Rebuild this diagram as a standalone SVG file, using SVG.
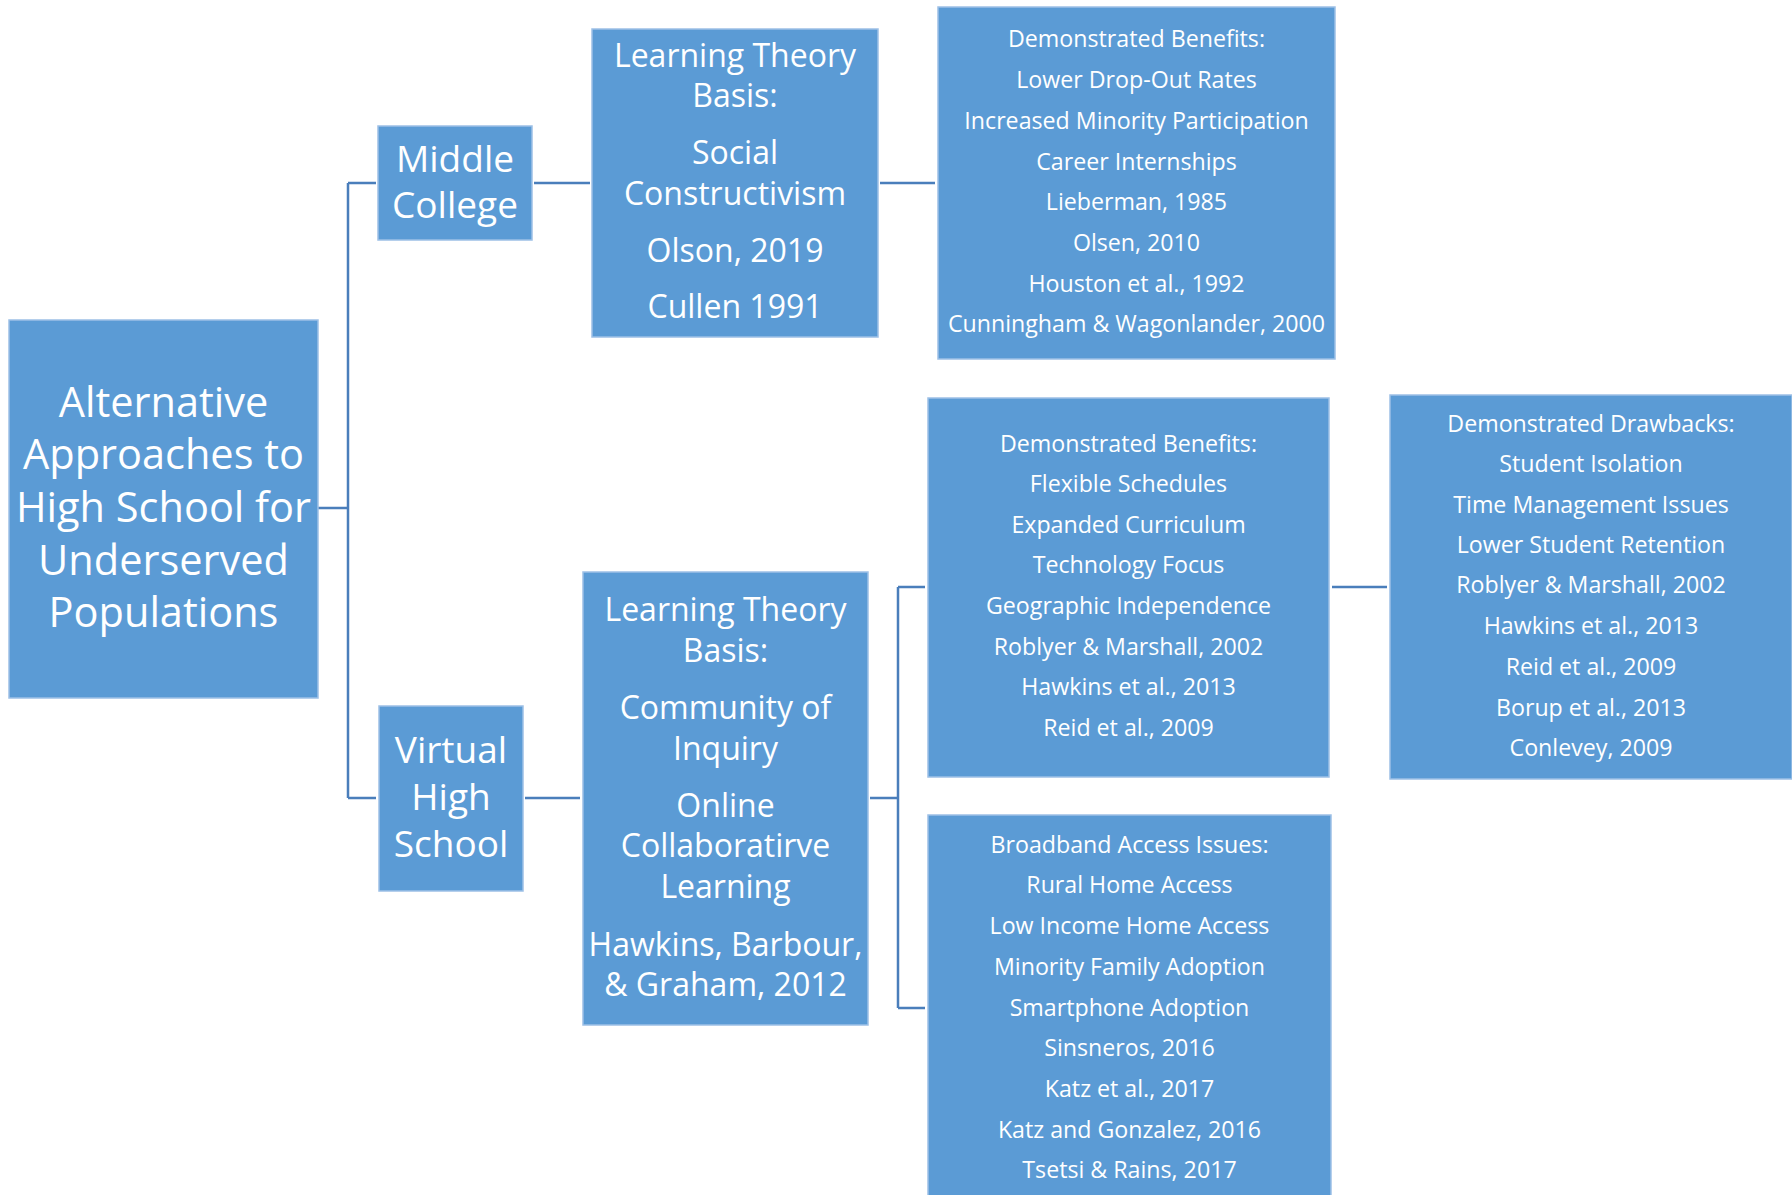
<svg xmlns="http://www.w3.org/2000/svg" width="1792" height="1195" viewBox="0 0 1792 1195">
<style>
.box{fill:#5B9BD5;stroke:#9DC0E6;stroke-width:1.5}
.conn{fill:none;stroke:#4A7EBB;stroke-width:2.5}
text{font-family:"Open Sans","Liberation Sans",sans-serif;fill:#ffffff;text-anchor:middle}
.t41{font-size:41.5px}
.t37{font-size:37px}
.t31{font-size:32px}
.t22{font-size:23.2px}
</style>
<rect width="1792" height="1195" fill="#ffffff"/>
<g id="connectors">
<path class="conn" d="M318,508 H348 M348,183 V798 M348,183 H376 M348,798 H376"/>
<path class="conn" d="M534,183 H590 M880,183 H935"/>
<path class="conn" d="M525,798 H580 M870,798 H898 M898,587 V1008 M898,587 H925 M898,1008 H925"/>
<path class="conn" d="M1332,587 H1387"/>
</g>
<g id="root">
<rect class="box" x="9" y="320" width="309" height="378"/>
<text class="t41" x="163.5" y="417">Alternative</text>
<text class="t41" x="163.5" y="469">Approaches to</text>
<text class="t41" x="163.5" y="522">High School for</text>
<text class="t41" x="163.5" y="575">Underserved</text>
<text class="t41" x="163.5" y="627">Populations</text>
</g>
<g id="middle-college">
<rect class="box" x="378" y="126" width="154" height="114"/>
<text class="t37" x="455" y="172">Middle</text>
<text class="t37" x="455" y="218">College</text>
</g>
<g id="theory-mc">
<rect class="box" x="592" y="29" width="286" height="308"/>
<text class="t31" x="735" y="67">Learning Theory</text>
<text class="t31" x="735" y="107">Basis:</text>
<text class="t31" x="735" y="164">Social</text>
<text class="t31" x="735" y="205">Constructivism</text>
<text class="t31" x="735" y="262">Olson, 2019</text>
<text class="t31" x="735" y="318">Cullen 1991</text>
</g>
<g id="benefits-mc">
<rect class="box" x="938" y="7" width="397" height="352"/>
<text class="t22" x="1136.5" y="47">Demonstrated Benefits:</text>
<text class="t22" x="1136.5" y="88">Lower Drop-Out Rates</text>
<text class="t22" x="1136.5" y="129">Increased Minority Participation</text>
<text class="t22" x="1136.5" y="170">Career Internships</text>
<text class="t22" x="1136.5" y="210">Lieberman, 1985</text>
<text class="t22" x="1136.5" y="251">Olsen, 2010</text>
<text class="t22" x="1136.5" y="292">Houston et al., 1992</text>
<text class="t22" x="1136.5" y="332">Cunningham &amp; Wagonlander, 2000</text>
</g>
<g id="virtual-hs">
<rect class="box" x="379" y="706" width="144" height="185"/>
<text class="t37" x="451" y="763">Virtual</text>
<text class="t37" x="451" y="810">High</text>
<text class="t37" x="451" y="857">School</text>
</g>
<g id="theory-vhs">
<rect class="box" x="583" y="572" width="285" height="453"/>
<text class="t31" x="725.5" y="621">Learning Theory</text>
<text class="t31" x="725.5" y="662">Basis:</text>
<text class="t31" x="725.5" y="719">Community of</text>
<text class="t31" x="725.5" y="760">Inquiry</text>
<text class="t31" x="725.5" y="817">Online</text>
<text class="t31" x="725.5" y="857">Collaboratirve</text>
<text class="t31" x="725.5" y="898">Learning</text>
<text class="t31" x="725.5" y="956">Hawkins, Barbour,</text>
<text class="t31" x="725.5" y="996">&amp; Graham, 2012</text>
</g>
<g id="benefits-vhs">
<rect class="box" x="928" y="398" width="401" height="379"/>
<text class="t22" x="1128.5" y="452">Demonstrated Benefits:</text>
<text class="t22" x="1128.5" y="492">Flexible Schedules</text>
<text class="t22" x="1128.5" y="533">Expanded Curriculum</text>
<text class="t22" x="1128.5" y="573">Technology Focus</text>
<text class="t22" x="1128.5" y="614">Geographic Independence</text>
<text class="t22" x="1128.5" y="655">Roblyer &amp; Marshall, 2002</text>
<text class="t22" x="1128.5" y="695">Hawkins et al., 2013</text>
<text class="t22" x="1128.5" y="736">Reid et al., 2009</text>
</g>
<g id="drawbacks-vhs">
<rect class="box" x="1390" y="395" width="402" height="384"/>
<text class="t22" x="1591" y="432">Demonstrated Drawbacks:</text>
<text class="t22" x="1591" y="472">Student Isolation</text>
<text class="t22" x="1591" y="513">Time Management Issues</text>
<text class="t22" x="1591" y="553">Lower Student Retention</text>
<text class="t22" x="1591" y="593">Roblyer &amp; Marshall, 2002</text>
<text class="t22" x="1591" y="634">Hawkins et al., 2013</text>
<text class="t22" x="1591" y="675">Reid et al., 2009</text>
<text class="t22" x="1591" y="716">Borup et al., 2013</text>
<text class="t22" x="1591" y="756">Conlevey, 2009</text>
</g>
<g id="broadband">
<rect class="box" x="928" y="815" width="403" height="385"/>
<text class="t22" x="1129.5" y="853">Broadband Access Issues:</text>
<text class="t22" x="1129.5" y="893">Rural Home Access</text>
<text class="t22" x="1129.5" y="934">Low Income Home Access</text>
<text class="t22" x="1129.5" y="975">Minority Family Adoption</text>
<text class="t22" x="1129.5" y="1016">Smartphone Adoption</text>
<text class="t22" x="1129.5" y="1056">Sinsneros, 2016</text>
<text class="t22" x="1129.5" y="1097">Katz et al., 2017</text>
<text class="t22" x="1129.5" y="1138">Katz and Gonzalez, 2016</text>
<text class="t22" x="1129.5" y="1178">Tsetsi &amp; Rains, 2017</text>
</g>
</svg>
